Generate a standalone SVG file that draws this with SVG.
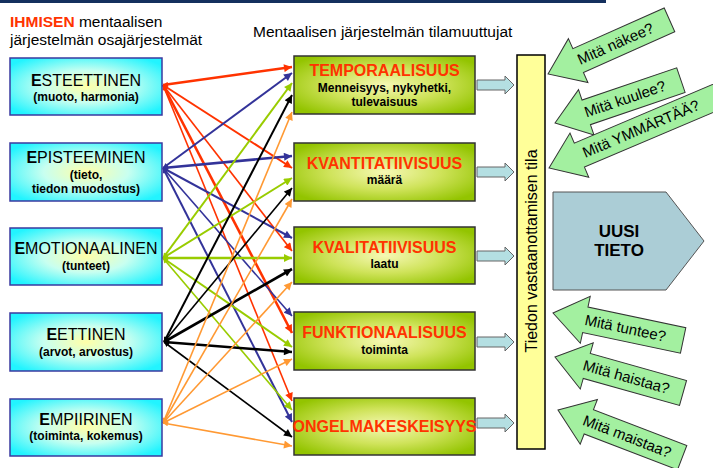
<svg xmlns="http://www.w3.org/2000/svg" width="713" height="468" viewBox="0 0 713 468">
  <style>
    text { font-family: "Liberation Sans", Arial, sans-serif; }
    .title { font-size: 15.5px; fill: #000; }
    .src { stroke: #3a3aa0; stroke-width: 1.5; fill: url(#cyanGrad); }
    .var { stroke: #333; stroke-width: 1.5; fill: url(#greenGrad); }
    .srcHead { font-size: 16px; text-anchor: middle; fill: #000; }
    .srcSub { font-size: 12px; font-weight: bold; text-anchor: middle; fill: #000; }
    .varHead { font-size: 16px; font-weight: bold; text-anchor: middle; fill: #ff3300; }
    .varSub { font-size: 12px; font-weight: bold; text-anchor: middle; fill: #000; }
    .push { fill: #b4dfe2; stroke: #666; stroke-width: 1; }
    .ask { fill: #a3f0a0; stroke: #333; stroke-width: 1; }
    .askText { font-size: 15px; text-anchor: middle; fill: #000; }
    .link { fill: none; stroke-width: 2; }
    .thick { stroke-width: 2.6; }
    .thin { stroke-width: 1.6; }
    .red { stroke: #ff3300; marker-end: url(#hRed); marker-start: url(#tRed); }
    .blue { stroke: #333399; marker-end: url(#hBlue); marker-start: url(#tBlue); }
    .lime { stroke: #99cc00; marker-end: url(#hLime); marker-start: url(#tLime); }
    .black { stroke: #000; marker-end: url(#hBlack); marker-start: url(#tBlack); }
    .orange { stroke: #ff9933; marker-end: url(#hOrange); marker-start: url(#tOrange); }
  </style>
  <defs>
    <radialGradient id="cyanGrad" cx="0.5" cy="0.5" r="0.62">
      <stop offset="0" stop-color="#ffffa8"/>
      <stop offset="0.45" stop-color="#c8fff0"/>
      <stop offset="1" stop-color="#22f4ff"/>
    </radialGradient>
    <radialGradient id="greenGrad" cx="0.5" cy="0.5" r="0.62">
      <stop offset="0" stop-color="#f6f8b4"/>
      <stop offset="0.5" stop-color="#cfe35a"/>
      <stop offset="1" stop-color="#93c400"/>
    </radialGradient>
    <!-- heads at the state-variable end -->
    <marker id="hRed" viewBox="0 0 10 10" refX="10" refY="5" markerWidth="9" markerHeight="8" markerUnits="userSpaceOnUse" orient="auto">
      <path d="M0,0 L10,5 L0,10 z" fill="#ff3300"/>
    </marker>
    <marker id="hBlue" viewBox="0 0 10 10" refX="10" refY="5" markerWidth="9" markerHeight="8" markerUnits="userSpaceOnUse" orient="auto">
      <path d="M0,0 L10,5 L0,10 z" fill="#333399"/>
    </marker>
    <marker id="hLime" viewBox="0 0 10 10" refX="10" refY="5" markerWidth="9" markerHeight="8" markerUnits="userSpaceOnUse" orient="auto">
      <path d="M0,0 L10,5 L0,10 z" fill="#99cc00"/>
    </marker>
    <marker id="hBlack" viewBox="0 0 10 10" refX="10" refY="5" markerWidth="9" markerHeight="8" markerUnits="userSpaceOnUse" orient="auto">
      <path d="M0,0 L10,5 L0,10 z" fill="#000"/>
    </marker>
    <marker id="hOrange" viewBox="0 0 10 10" refX="10" refY="5" markerWidth="9" markerHeight="8" markerUnits="userSpaceOnUse" orient="auto">
      <path d="M0,0 L10,5 L0,10 z" fill="#ff9933"/>
    </marker>
    <!-- smaller heads at the subsystem end -->
    <marker id="tRed" viewBox="0 0 10 10" refX="10" refY="5" markerWidth="6" markerHeight="5" markerUnits="userSpaceOnUse" orient="auto-start-reverse">
      <path d="M0,0 L10,5 L0,10 z" fill="#ff3300"/>
    </marker>
    <marker id="tBlue" viewBox="0 0 10 10" refX="10" refY="5" markerWidth="6" markerHeight="5" markerUnits="userSpaceOnUse" orient="auto-start-reverse">
      <path d="M0,0 L10,5 L0,10 z" fill="#333399"/>
    </marker>
    <marker id="tLime" viewBox="0 0 10 10" refX="10" refY="5" markerWidth="6" markerHeight="5" markerUnits="userSpaceOnUse" orient="auto-start-reverse">
      <path d="M0,0 L10,5 L0,10 z" fill="#99cc00"/>
    </marker>
    <marker id="tBlack" viewBox="0 0 10 10" refX="10" refY="5" markerWidth="6" markerHeight="5" markerUnits="userSpaceOnUse" orient="auto-start-reverse">
      <path d="M0,0 L10,5 L0,10 z" fill="#000"/>
    </marker>
    <marker id="tOrange" viewBox="0 0 10 10" refX="10" refY="5" markerWidth="6" markerHeight="5" markerUnits="userSpaceOnUse" orient="auto-start-reverse">
      <path d="M0,0 L10,5 L0,10 z" fill="#ff9933"/>
    </marker>
    <!-- block arrow pointing left, tip at origin -->
    <polygon id="askShape" points="0,0 33,-24 33,-13 133,-13 133,13 33,13 33,24"/>
    <polygon id="askShapeLong" points="0,0 33,-24 33,-13 190,-13 190,13 33,13 33,24"/>
  </defs>

  <rect width="713" height="468" fill="#fff"/>
  <rect x="0" y="0" width="606" height="3" fill="#14305e"/>

  <!-- headings -->
  <text class="title" x="10" y="27"><tspan font-weight="bold" fill="#ff3300">IHMISEN</tspan> mentaalisen</text>
  <text class="title" x="10" y="45">järjestelmän osajärjestelmät</text>
  <text class="title" x="253" y="37">Mentaalisen järjestelmän tilamuuttujat</text>

  <!-- connectors -->
  <g id="connectors">
    <line class="link red thick" x1="163" y1="85" x2="292" y2="67"/>
    <line class="link red" x1="163" y1="85" x2="292" y2="168"/>
    <line class="link red thin" x1="163" y1="85" x2="292" y2="251"/>
    <line class="link red thick" x1="163" y1="85" x2="292" y2="333"/>
    <line class="link red thin" x1="163" y1="85" x2="292" y2="401"/>

    <line class="link blue" x1="163" y1="168" x2="292" y2="73"/>
    <line class="link blue thick" x1="163" y1="168" x2="292" y2="156"/>
    <line class="link blue" x1="163" y1="168" x2="292" y2="238"/>
    <line class="link blue thin" x1="163" y1="168" x2="292" y2="316"/>
    <line class="link blue" x1="163" y1="168" x2="292" y2="422"/>

    <line class="link lime" x1="163" y1="258" x2="292" y2="83"/>
    <line class="link lime" x1="163" y1="258" x2="292" y2="178"/>
    <line class="link lime thick" x1="163" y1="258" x2="292" y2="258"/>
    <line class="link lime" x1="163" y1="258" x2="292" y2="347"/>
    <line class="link lime thin" x1="163" y1="258" x2="292" y2="410"/>

    <line class="link black" x1="164" y1="342" x2="292" y2="95"/>
    <line class="link black thin" x1="164" y1="342" x2="292" y2="188"/>
    <line class="link black thick" x1="164" y1="342" x2="292" y2="269"/>
    <line class="link black thick" x1="164" y1="342" x2="292" y2="352"/>
    <line class="link black thin" x1="164" y1="342" x2="292" y2="437"/>

    <line class="link orange thin" x1="163" y1="423" x2="292" y2="112"/>
    <line class="link orange thin" x1="163" y1="423" x2="292" y2="199"/>
    <line class="link orange thin" x1="163" y1="423" x2="292" y2="282"/>
    <line class="link orange thin" x1="163" y1="423" x2="292" y2="359"/>
    <line class="link orange thin" x1="163" y1="423" x2="292" y2="446"/>
  </g>

  <!-- subsystems -->
  <g id="esteettinen">
    <rect class="src" x="10" y="58" width="152" height="57"/>
    <text class="srcHead" x="86" y="86"><tspan font-weight="bold">E</tspan>STEETTINEN</text>
    <text class="srcSub" x="86" y="101">(muoto, harmonia)</text>
  </g>
  <g id="episteeminen">
    <rect class="src" x="10" y="143" width="152" height="58"/>
    <text class="srcHead" x="86" y="163"><tspan font-weight="bold">E</tspan>PISTEEMINEN</text>
    <text class="srcSub" x="86" y="179">(tieto,</text>
    <text class="srcSub" x="86" y="193">tiedon muodostus)</text>
  </g>
  <g id="emotionaalinen">
    <rect class="src" x="10" y="228" width="152" height="57"/>
    <text class="srcHead" x="86" y="254"><tspan font-weight="bold">E</tspan>MOTIONAALINEN</text>
    <text class="srcSub" x="86" y="270">(tunteet)</text>
  </g>
  <g id="eettinen">
    <rect class="src" x="10" y="313" width="152" height="58"/>
    <text class="srcHead" x="86" y="340"><tspan font-weight="bold">E</tspan>ETTINEN</text>
    <text class="srcSub" x="86" y="356">(arvot, arvostus)</text>
  </g>
  <g id="empiirinen">
    <rect class="src" x="10" y="399" width="152" height="57"/>
    <text class="srcHead" x="86" y="425"><tspan font-weight="bold">E</tspan>MPIIRINEN</text>
    <text class="srcSub" x="86" y="440">(toiminta, kokemus)</text>
  </g>

  <!-- state variables -->
  <g id="temporaalisuus">
    <rect class="var" x="294" y="56" width="181" height="58"/>
    <text class="varHead" x="384.5" y="76" font-size="17">TEMPORAALISUUS</text>
    <text class="varSub" x="384.5" y="92" font-size="11.5">Menneisyys, nykyhetki,</text>
    <text class="varSub" x="384.5" y="106" font-size="11.5">tulevaisuus</text>
  </g>
  <g id="kvantitatiivisuus">
    <rect class="var" x="294" y="143" width="181" height="58"/>
    <text class="varHead" x="384.5" y="169">KVANTITATIIVISUUS</text>
    <text class="varSub" x="384.5" y="184">määrä</text>
  </g>
  <g id="kvalitatiivisuus">
    <rect class="var" x="294" y="227" width="181" height="57"/>
    <text class="varHead" x="384.5" y="253">KVALITATIIVISUUS</text>
    <text class="varSub" x="384.5" y="268">laatu</text>
  </g>
  <g id="funktionaalisuus">
    <rect class="var" x="294" y="312" width="181" height="58"/>
    <text class="varHead" x="384.5" y="338">FUNKTIONAALISUUS</text>
    <text class="varSub" x="384.5" y="354">toiminta</text>
  </g>
  <g id="ongelmakeskeisyys">
    <rect class="var" x="294" y="398" width="181" height="57"/>
    <text class="varHead" x="384.5" y="432" font-size="15.3">ONGELMAKESKEISYYS</text>
  </g>

  <!-- short arrows into the reception bar -->
  <g id="feeds">
    <polygon class="push" points="477,80 505,80 505,76 514,85 505,94 505,90 477,90"/>
    <polygon class="push" points="477,167 505,167 505,163 514,172 505,181 505,177 477,177"/>
    <polygon class="push" points="477,251 505,251 505,247 514,256 505,265 505,261 477,261"/>
    <polygon class="push" points="477,337 505,337 505,333 514,342 505,351 505,347 477,347"/>
    <polygon class="push" points="477,418 505,418 505,414 514,423 505,432 505,428 477,428"/>
  </g>

  <!-- reception bar -->
  <g id="vastaanotto">
    <rect x="517" y="55" width="28" height="394" fill="#ffff99" stroke="#000" stroke-width="1.5"/>
    <text x="537" y="251" font-size="16" text-anchor="middle" transform="rotate(-90 537 251)">Tiedon vastaanottamisen tila</text>
  </g>

  <!-- new knowledge -->
  <g id="uusi-tieto">
    <polygon points="553,192 666,192 704,241 666,290 553,290" fill="#abcdd6" stroke="#555" stroke-width="1"/>
    <text x="619" y="237" font-size="17" font-weight="900" text-anchor="middle">UUSI</text>
    <text x="619" y="256" font-size="17" font-weight="900" text-anchor="middle">TIETO</text>
  </g>

  <!-- question arrows -->
  <g id="nakee" transform="translate(548,74) rotate(-24)">
    <use href="#askShape" class="ask"/>
    <text class="askText" x="74" y="5">Mitä näkee?</text>
  </g>
  <g id="kuulee" transform="translate(555,123) rotate(-18.8)">
    <use href="#askShape" class="ask"/>
    <text class="askText" x="74" y="5">Mitä kuulee?</text>
  </g>
  <g id="ymmartaa" transform="translate(549,168) rotate(-23)">
    <use href="#askShapeLong" class="ask"/>
    <text class="askText" x="100" y="5">Mitä YMMÄRTÄÄ?</text>
  </g>
  <g id="tuntee" transform="translate(553,313) rotate(11.9)">
    <use href="#askShape" class="ask"/>
    <text class="askText" x="74" y="5">Mitä tuntee?</text>
  </g>
  <g id="haistaa" transform="translate(555,357) rotate(15.7)">
    <use href="#askShape" class="ask"/>
    <text class="askText" x="74" y="5">Mitä haistaa?</text>
  </g>
  <g id="maistaa" transform="translate(558,410) rotate(21)">
    <use href="#askShape" class="ask"/>
    <text class="askText" x="74" y="5">Mitä maistaa?</text>
  </g>
</svg>
